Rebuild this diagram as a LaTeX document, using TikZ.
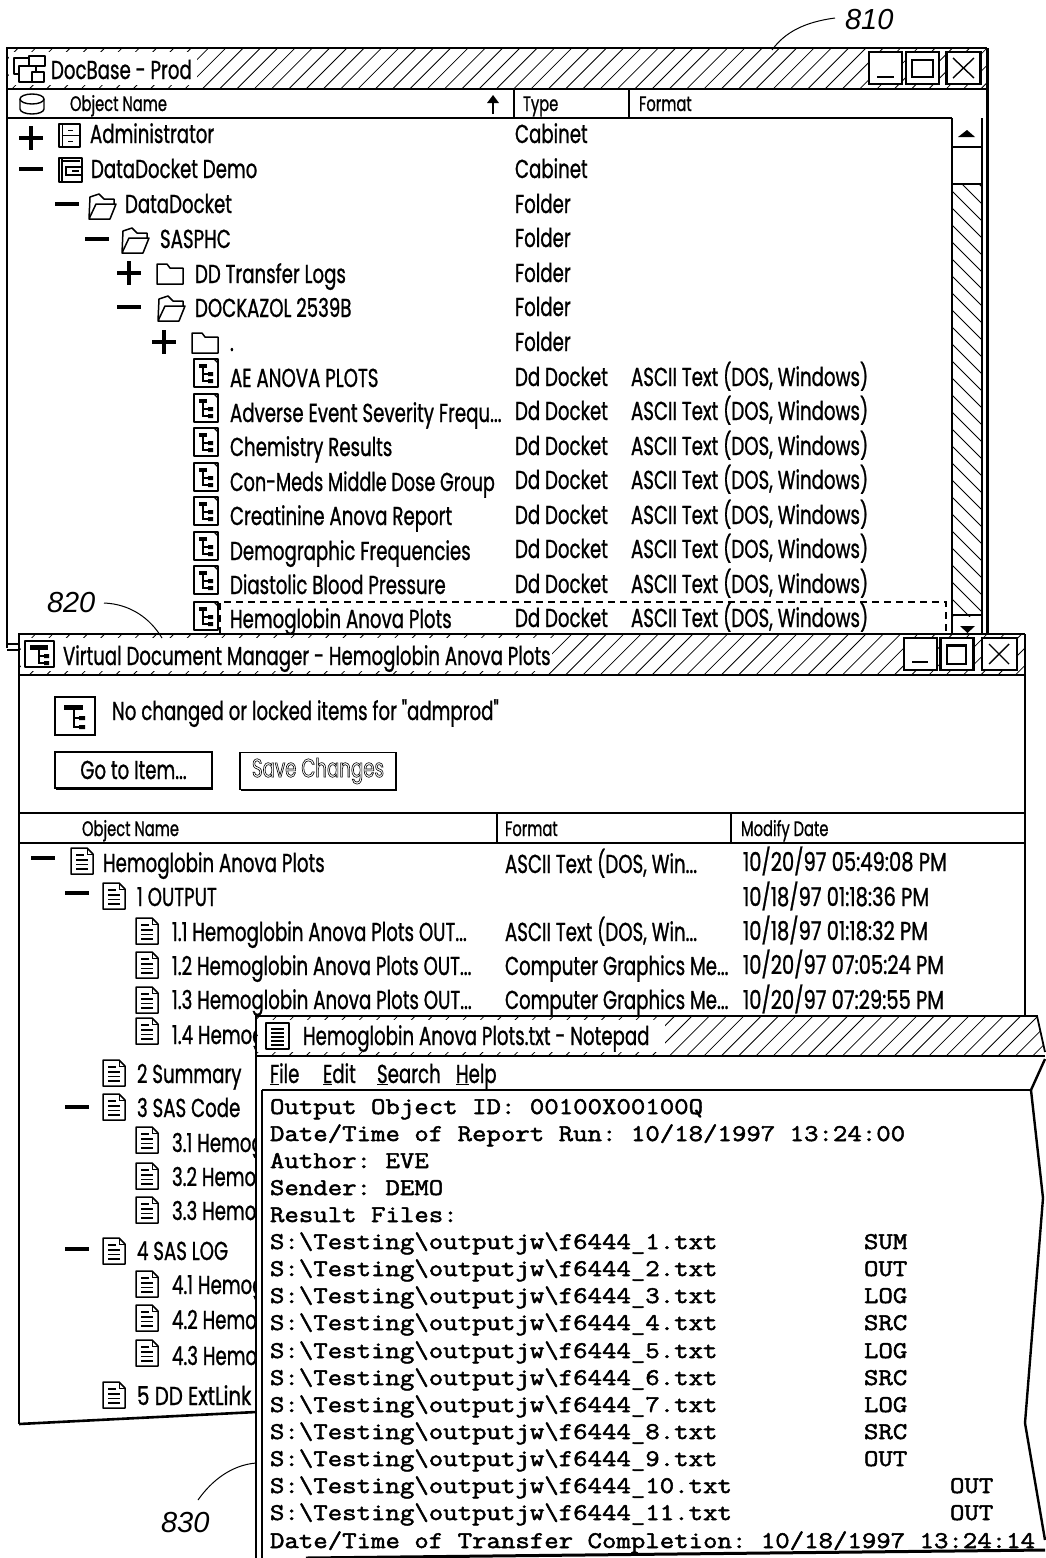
\documentclass[tikz,border=0pt]{standalone}
\usepackage{fontspec}
\usepackage{graphicx}
\newfontfamily\uif[FakeStretch=0.70,FakeBold=0.9]{Poppins}
\newfontfamily\uifd[FakeStretch=0.75,FakeBold=0.9]{Poppins}
\newfontfamily\uifplain[FakeStretch=0.70]{Poppins}
\newfontfamily\lblf{Liberation Sans}
\newfontfamily\monof[FakeStretch=1.168,FakeBold=2]{Latin Modern Mono}
\tikzset{
 ln/.style={draw=black,line width=1.8pt},
 thick line/.style={draw=black,line width=3pt},
 hatchln/.style={draw=black,line width=0.8pt},
 ico/.style={draw=black,line width=1.5pt,fill=white,line join=round},
 ui/.style={anchor=base west,inner sep=0pt,outer sep=0pt,font=\uif\fontsize{26}{28}\selectfont},
 uid/.style={ui,font=\uifd\fontsize{26}{28}\selectfont},
 uis/.style={ui,font=\uif\fontsize{21}{24}\selectfont},
 mono/.style={anchor=base west,inner sep=0pt,outer sep=0pt,font=\monof\frenchspacing\fontsize{24}{26}\selectfont},
 lbl/.style={anchor=base west,inner sep=0pt,outer sep=0pt,font=\lblf\itshape\fontsize{29}{32}\selectfont},
 leader/.style={draw=black,line width=1pt},
 winbtn/.style={draw=black,line width=2.4pt,fill=white},
 dashbox/.style={draw=black,line width=1.2pt,dash pattern=on 7pt off 5pt},
}
\newcounter{tc}
\newcommand\ttx[4][ui]{\stepcounter{tc}\node[#1] (t\thetc) at (#2,#3) {#4};}
\newcommand\mtx[3]{\stepcounter{tc}\node[mono] (t\thetc) at (#1,#2) {#3};}
% hatch band
\newcommand\hatchbar[4]{\begin{scope}\clip (#1,#2) rectangle (#3,#4);
 \pgfmathsetmacro\hh{#4-#2}
 \foreach \k in {-40,-22.7,...,1100}{\draw[hatchln] (\k,#4) -- ++(\hh,-\hh);}
 \end{scope}}
\newcommand\plusm[2]{\draw[draw=black,line width=3.4pt] (#1-12,#2) -- (#1+12,#2) (#1,#2-12) -- (#1,#2+12);}
\newcommand\minusm[2]{\draw[draw=black,line width=3.4pt] (#1-12,#2) -- (#1+12,#2);}
% open folder: x,y = top-left
\newcommand\fopen[2]{\begin{scope}[shift={(#1,#2)}]
 \draw[ico] (1,26) -- (2,4) -- (11,1) -- (16,6) -- (26,6) -- (26,11) -- (8,11) -- (1,26) -- (22,26) -- (28,11) -- (26,11);
 \end{scope}}
\newcommand\fclosed[2]{\begin{scope}[shift={(#1,#2)}]
 \draw[ico] (0,22) -- (0,2) -- (10,2) -- (13,6) -- (26,6) -- (26,22) -- cycle;
 \end{scope}}
% docket (tree) icon
\newcommand\tree[2]{\begin{scope}[shift={(#1,#2)}]
 \draw[ico,line width=1.8pt] (0,0) rectangle (24,28);
 \draw[line width=1.2pt] (20,0) -- (24,4);
 \fill (5,5) rectangle (13,9);
 \draw[line width=1.6pt] (9,9) -- (9,22) -- (15,22) (9,15) -- (15,15);
 \fill (14,13) rectangle (19,17) (14,20) rectangle (19,24);
 \end{scope}}
% page icon
\newcommand\page[2]{\begin{scope}[shift={(#1,#2)}]
 \draw[ico] (0,0) -- (16,0) -- (22,6) -- (22,26) -- (0,26) -- cycle;
 \draw[line width=1pt] (16,0) -- (16,6) -- (22,6);
 \draw[line width=1.5pt] (5,7) -- (13,7) (5,12) -- (17,12) (5,16.5) -- (17,16.5) (5,21) -- (17,21);
 \end{scope}}
\begin{document}
\begin{tikzpicture}[x=1pt,y=-1pt]
\useasboundingbox (0,0) rectangle (1045,1558);
\fill[white] (0,0) rectangle (1045,1558);

%%%%%% WINDOW 1
\fill[white] (7,48) rectangle (987,648);
\hatchbar{7}{48}{987}{89}
\fill[white] (9,52) rectangle (197,85);
\draw[ln] (7,648) -- (7,48) -- (987,48);
\draw[thick line] (987,48) -- (987,636);
\draw[line width=2.4pt] (7,89) -- (987,89);
\draw[ln] (7,118) -- (952,118);
\draw[ln] (514,90) -- (514,118) (629,90) -- (629,118);
\draw[ln] (7,644) -- (20,644) (7,650) -- (20,650);
% title icon
\draw[ico] (14,58) rectangle (31,74);
\draw[ico] (29,56) rectangle (45,66);
\draw[ico] (19,66) rectangle (36,82);
\draw[ico] (32,72) rectangle (44,82);
\ttx{51}{79}{DocBase - Prod}
% buttons
\node[winbtn,minimum width=33pt,minimum height=32pt,inner sep=0pt] (b1a) at (885.5,68) {};
\draw[line width=1.4pt] (877,77) -- (894,77);
\node[winbtn,minimum width=33pt,minimum height=32pt,inner sep=0pt] (b1b) at (922.5,68) {};
\draw[line width=2pt] (912,60) rectangle (933,77);
\draw[line width=2pt] (912,60) -- (933,60);
\node[winbtn,minimum width=34pt,minimum height=32pt,inner sep=0pt] (b1c) at (963.5,68) {};
\draw[line width=1.4pt] (953,58) -- (974,78) (974,58) -- (953,78);
% header
\draw[ico,line width=1.4pt] (20,99) -- (20,109) arc[start angle=180,end angle=0,x radius=12,y radius=5] -- (44,99);
\draw[ico,line width=1.4pt] (32,99) ellipse[x radius=12,y radius=5];
\ttx[uis]{70}{111}{Object Name}
\draw[line width=2.6pt] (493,114) -- (493,101);
\fill (487,103) -- (493,95) -- (499,103) -- cycle;
\ttx[uis]{523}{111}{Type}
\ttx[uis]{639}{111}{Format}
% scrollbar
\begin{scope}\clip (952,184) rectangle (982,616);
\fill[white] (952,184) rectangle (982,616);
\foreach \k in {140,157,...,640}{\draw[hatchln] (952,\k) -- ++(30,30);}
\end{scope}
\draw[ln] (952,118) -- (952,634) (982,118) -- (982,634);
\draw[ln] (952,147) -- (982,147) (952,184) -- (982,184) (952,615) -- (982,615);
\fill (958,137) -- (967,130) -- (975,137) -- cycle;
\fill (960,626) -- (975,626) -- (967.5,633) -- cycle;
% rows
\plusm{31}{138}
\ttx{90}{143}{Administrator}
\ttx{515}{143}{Cabinet}
\begin{scope}[shift={(59,124)}]
\draw[ico,line width=1.4pt] (0,0) rectangle (21,23);
\draw[line width=1pt] (3,0) -- (3,23) (3,11) -- (21,11);
\draw[line width=1pt] (9,6) -- (14,6) (9,17) -- (14,17);
\end{scope}
\minusm{31}{169}
\ttx{91}{178}{DataDocket Demo}
\ttx{515}{178}{Cabinet}
\begin{scope}[shift={(59,158)}]
\draw[ico,line width=1.8pt] (0,0) rectangle (23,24);
\draw[line width=1.4pt] (3,3) -- (21,3) (3,0) -- (3,24);
\draw[line width=1.6pt] (7,9) rectangle (23,17);
\fill (13,12) rectangle (20,14);
\end{scope}
\minusm{67}{204}
\fopen{88}{193}
\ttx{125}{213}{DataDocket}
\ttx{515}{213}{Folder}
\minusm{97}{239}
\fopen{121}{227}
\ttx{160}{248}{SASPHC}
\ttx{515}{247}{Folder}
\plusm{129}{273}
\fclosed{157}{262}
\ttx{195}{283}{DD Transfer Logs}
\ttx{515}{282}{Folder}
\minusm{129}{307}
\fopen{157}{295}
\ttx{195}{317}{DOCKAZOL 2539B}
\ttx{515}{316}{Folder}
\plusm{164}{342}
\fclosed{192}{331}
\ttx{230}{351}{.}
\ttx{515}{351}{Folder}
\tree{194}{359}
\ttx{230}{387}{AE ANOVA PLOTS}
\ttx{515}{386}{Dd Docket}
\ttx{631}{386}{ASCII Text (DOS, Windows)}
\tree{194}{394}
\ttx{230}{422}{Adverse Event Severity Frequ...}
\ttx{515}{420}{Dd Docket}
\ttx{631}{420}{ASCII Text (DOS, Windows)}
\tree{194}{428}
\ttx{230}{456}{Chemistry Results}
\ttx{515}{455}{Dd Docket}
\ttx{631}{455}{ASCII Text (DOS, Windows)}
\tree{194}{463}
\ttx{230}{491}{\scalebox{0.97}[1]{Con-Meds Middle Dose Group}}
\ttx{515}{489}{Dd Docket}
\ttx{631}{489}{ASCII Text (DOS, Windows)}
\tree{194}{497}
\ttx{230}{525}{Creatinine Anova Report}
\ttx{515}{524}{Dd Docket}
\ttx{631}{524}{ASCII Text (DOS, Windows)}
\tree{194}{532}
\ttx{230}{560}{Demographic Frequencies}
\ttx{515}{558}{Dd Docket}
\ttx{631}{558}{ASCII Text (DOS, Windows)}
\tree{194}{566}
\ttx{230}{594}{Diastolic Blood Pressure}
\ttx{515}{593}{Dd Docket}
\ttx{631}{593}{ASCII Text (DOS, Windows)}
\tree{194}{602}
\ttx{230}{628}{Hemoglobin Anova Plots}
\ttx{515}{627}{Dd Docket}
\ttx{631}{627}{ASCII Text (DOS, Windows)}
\draw[dashbox] (220,634) -- (220,602) -- (946,602) -- (946,634);

%%%%%% WINDOW 2
\fill[white] (19,634) rectangle (1025,1424);
\hatchbar{19}{634}{1025}{675}
\fill[white] (21,638) rectangle (552,671);
\draw[ln] (19,1424) -- (19,634) -- (1025,634);
\draw[line width=2.4pt] (1025,634) -- (1025,1020);
\draw[ln] (19,675) -- (1025,675);
\draw[line width=2.6pt] (19,1424) -- (256,1412);
% title icon
\draw[ico,line width=2pt] (25,641) rectangle (54,667);
\fill (30,645) rectangle (48,650);
\draw[line width=1.6pt] (39,650) -- (39,663) -- (45,663) (39,656) -- (45,656);
\fill (44,654) rectangle (49,658) (44,661) rectangle (49,665);
\ttx{63}{665}{Virtual Document Manager - Hemoglobin Anova Plots}
\node[winbtn,minimum width=33pt,minimum height=32pt,inner sep=0pt] (b2a) at (920.5,654) {};
\draw[line width=1.4pt] (912,662) -- (928,662);
\node[winbtn,minimum width=33pt,minimum height=32pt,inner sep=0pt] (b2b) at (957,654) {};
\draw[line width=2pt] (947,645) rectangle (966,664);
\draw[line width=3pt] (947,645) -- (966,645);
\node[winbtn,minimum width=35pt,minimum height=32pt,inner sep=0pt] (b2c) at (999.5,654) {};
\draw[line width=1.4pt] (989,644) -- (1009,664) (1009,644) -- (989,664);
% message
\draw[ln] (55,697) rectangle (95,735);
\fill (64,705) rectangle (83,710);
\draw[line width=1.6pt] (74,710) -- (74,727) -- (81,727) (74,718) -- (81,718);
\fill (79,716) rectangle (85,720) (79,725) rectangle (85,729);
\ttx{112}{720}{No changed or locked items for "admprod"}
\node[draw=black,line width=1.8pt,minimum width=157pt,minimum height=36pt,inner sep=0pt,font=\uif\fontsize{26}{28}\selectfont,fill=white] (go) at (133.5,770) {Go to Item...};
\draw[line width=2.6pt] (212,753) -- (212,789) -- (56,789);
\stepcounter{tc}\node[draw=black,line width=1.8pt,minimum width=156pt,minimum height=37pt,inner sep=0pt,fill=white,text=black,font=\uifplain\fontsize{26}{28}\selectfont] (save) at (318,771) {\special{pdf:code 1 Tr 0.6 w}Save Changes\special{pdf:code 0 Tr}};
\draw[line width=2.6pt] (396,753) -- (396,790) -- (241,790);
% header
\draw[ln] (19,813) -- (1025,813) (19,843) -- (1025,843);
\draw[ln] (497,813) -- (497,843) (731,813) -- (731,843);
\ttx[uis]{82}{836}{Object Name}
\ttx[uis]{505}{836}{Format}
\ttx[uis]{741}{836}{Modify Date}
% rows
\minusm{43}{858}
\page{71}{848}
\ttx{103}{872}{Hemoglobin Anova Plots}
\ttx{505}{873}{ASCII Text (DOS, Win...}
\ttx[uid]{743}{871}{10/20/97 05:49:08 PM}
\minusm{77}{893}
\page{103}{883}
\ttx{137}{906}{1 OUTPUT}
\ttx[uid]{743}{906}{10/18/97 01:18:36 PM}
\page{136}{918}
\ttx{172}{941}{1.1 Hemoglobin Anova Plots OUT...}
\ttx{505}{941}{ASCII Text (DOS, Win...}
\ttx[uid]{743}{940}{10/18/97 01:18:32 PM}
\page{136}{952}
\ttx{172}{975}{1.2 Hemoglobin Anova Plots OUT...}
\ttx{505}{975}{Computer Graphics Me...}
\ttx[uid]{743}{974}{10/20/97 07:05:24 PM}
\page{136}{987}
\ttx{172}{1009}{1.3 Hemoglobin Anova Plots OUT...}
\ttx{505}{1009}{Computer Graphics Me...}
\ttx[uid]{743}{1009}{10/20/97 07:29:55 PM}
\page{136}{1018}
\ttx{172}{1044}{1.4 Hemog}
\page{103}{1060}
\ttx{137}{1083}{2 Summary}
\minusm{77}{1107}
\page{103}{1094}
\ttx{137}{1117}{3 SAS Code}
\page{136}{1127}
\ttx{172}{1152}{3.1 Hemog}
\page{136}{1163}
\ttx{172}{1186}{3.2 Hemog}
\page{136}{1197}
\ttx{172}{1220}{3.3 Hemog}
\minusm{77}{1249}
\page{103}{1238}
\ttx{137}{1260}{4 SAS LOG}
\page{136}{1271}
\ttx{172}{1294}{4.1 Hemog}
\page{136}{1305}
\ttx{172}{1329}{4.2 Hemog}
\page{136}{1340}
\ttx{172}{1365}{4.3 Hemog}
\page{103}{1382}
\ttx{137}{1405}{\scalebox{1.09}[1]{5 DD ExtLink}}

%%%%%% WINDOW 3
\fill[white] (256,1016) -- (1037,1016) -- (1045,1056) -- (1031,1090) -- (1043,1198) -- (1025,1423) -- (1045,1540) -- (1045,1550) -- (256,1558) -- cycle;
\begin{scope}
\clip (256,1016) -- (1037,1016) -- (1045,1056) -- (256,1056) -- cycle;
\hatchbar{256}{1016}{1045}{1056}
\end{scope}
\fill[white] (258,1020) rectangle (665,1052);
\draw[ln] (256,1558) -- (256,1016) -- (1037,1016) -- (1045,1052);
\draw[ln] (262,1558) -- (262,1090);
\draw[line width=2.2pt] (256,1056) -- (1045,1056);
\draw[line width=2.2pt] (262,1090) -- (1031,1090);
\draw[line width=2.4pt] (1045,1059) -- (1031,1090) -- (1043,1198) -- (1025,1423) -- (1045,1540);
\draw[line width=3pt] (306,1558) -- (1045,1550);
% notepad icon
\draw[ico,line width=1.4pt] (266,1023) rectangle (289,1049);
\draw[line width=1.2pt,dash pattern=on 2pt off 2pt] (268,1023) -- (288,1023);
\draw[line width=1.2pt] (271,1029) -- (284,1029) (271,1033) -- (284,1033) (271,1037) -- (284,1037) (271,1041) -- (284,1041) (271,1045) -- (284,1045);
\ttx{303}{1045}{Hemoglobin Anova Plots.txt - Notepad}
\ttx{270}{1083}{\underline{F}ile}
\ttx{323}{1083}{\underline{E}dit}
\ttx{377}{1083}{\underline{S}earch}
\ttx{456}{1083}{\underline{H}elp}
% body text
\mtx{270}{1114}{Output Object ID: 00100X00100Q}
\mtx{270}{1141}{Date/Time of Report Run: 10/18/1997 13:24:00}
\mtx{270}{1168}{Author: EVE}
\mtx{270}{1195}{Sender: DEMO}
\mtx{270}{1222}{Result Files:}
\mtx{270}{1249}{S:\textbackslash Testing\textbackslash outputjw\textbackslash f6444\_1.txt}
\mtx{270}{1276}{S:\textbackslash Testing\textbackslash outputjw\textbackslash f6444\_2.txt}
\mtx{270}{1303}{S:\textbackslash Testing\textbackslash outputjw\textbackslash f6444\_3.txt}
\mtx{270}{1330}{S:\textbackslash Testing\textbackslash outputjw\textbackslash f6444\_4.txt}
\mtx{270}{1358}{S:\textbackslash Testing\textbackslash outputjw\textbackslash f6444\_5.txt}
\mtx{270}{1385}{S:\textbackslash Testing\textbackslash outputjw\textbackslash f6444\_6.txt}
\mtx{270}{1412}{S:\textbackslash Testing\textbackslash outputjw\textbackslash f6444\_7.txt}
\mtx{270}{1439}{S:\textbackslash Testing\textbackslash outputjw\textbackslash f6444\_8.txt}
\mtx{270}{1466}{S:\textbackslash Testing\textbackslash outputjw\textbackslash f6444\_9.txt}
\mtx{270}{1493}{S:\textbackslash Testing\textbackslash outputjw\textbackslash f6444\_10.txt}
\mtx{270}{1520}{S:\textbackslash Testing\textbackslash outputjw\textbackslash f6444\_11.txt}
\mtx{270}{1548}{Date/Time of Transfer Completion: 10/18/1997 13:24:14}
\mtx{864}{1249}{SUM}
\mtx{864}{1276}{OUT}
\mtx{864}{1303}{LOG}
\mtx{864}{1330}{SRC}
\mtx{864}{1358}{LOG}
\mtx{864}{1385}{SRC}
\mtx{864}{1412}{LOG}
\mtx{864}{1439}{SRC}
\mtx{864}{1466}{OUT}
\mtx{950}{1493}{OUT}
\mtx{950}{1520}{OUT}

%%%%%% LABELS AND LEADERS
\node[lbl] (l810) at (845,29) {810};
\node[lbl] (l820) at (47,612) {820};
\node[lbl] (l830) at (161,1532) {830};
\coordinate (c810) at (772,50);
\coordinate (c820) at (162,638);
\coordinate (c830) at (256,1463);
\coordinate (s810) at (835,18);
\coordinate (s820) at (104,603);
\coordinate (s830) at (198,1500);
\draw[leader] (s810) .. controls (805,22) and (785,32) .. (c810);
\draw[leader] (s820) .. controls (130,604) and (150,618) .. (c820);
\draw[leader] (s830) .. controls (212,1480) and (232,1465) .. (c830);
\end{tikzpicture}
\end{document}
